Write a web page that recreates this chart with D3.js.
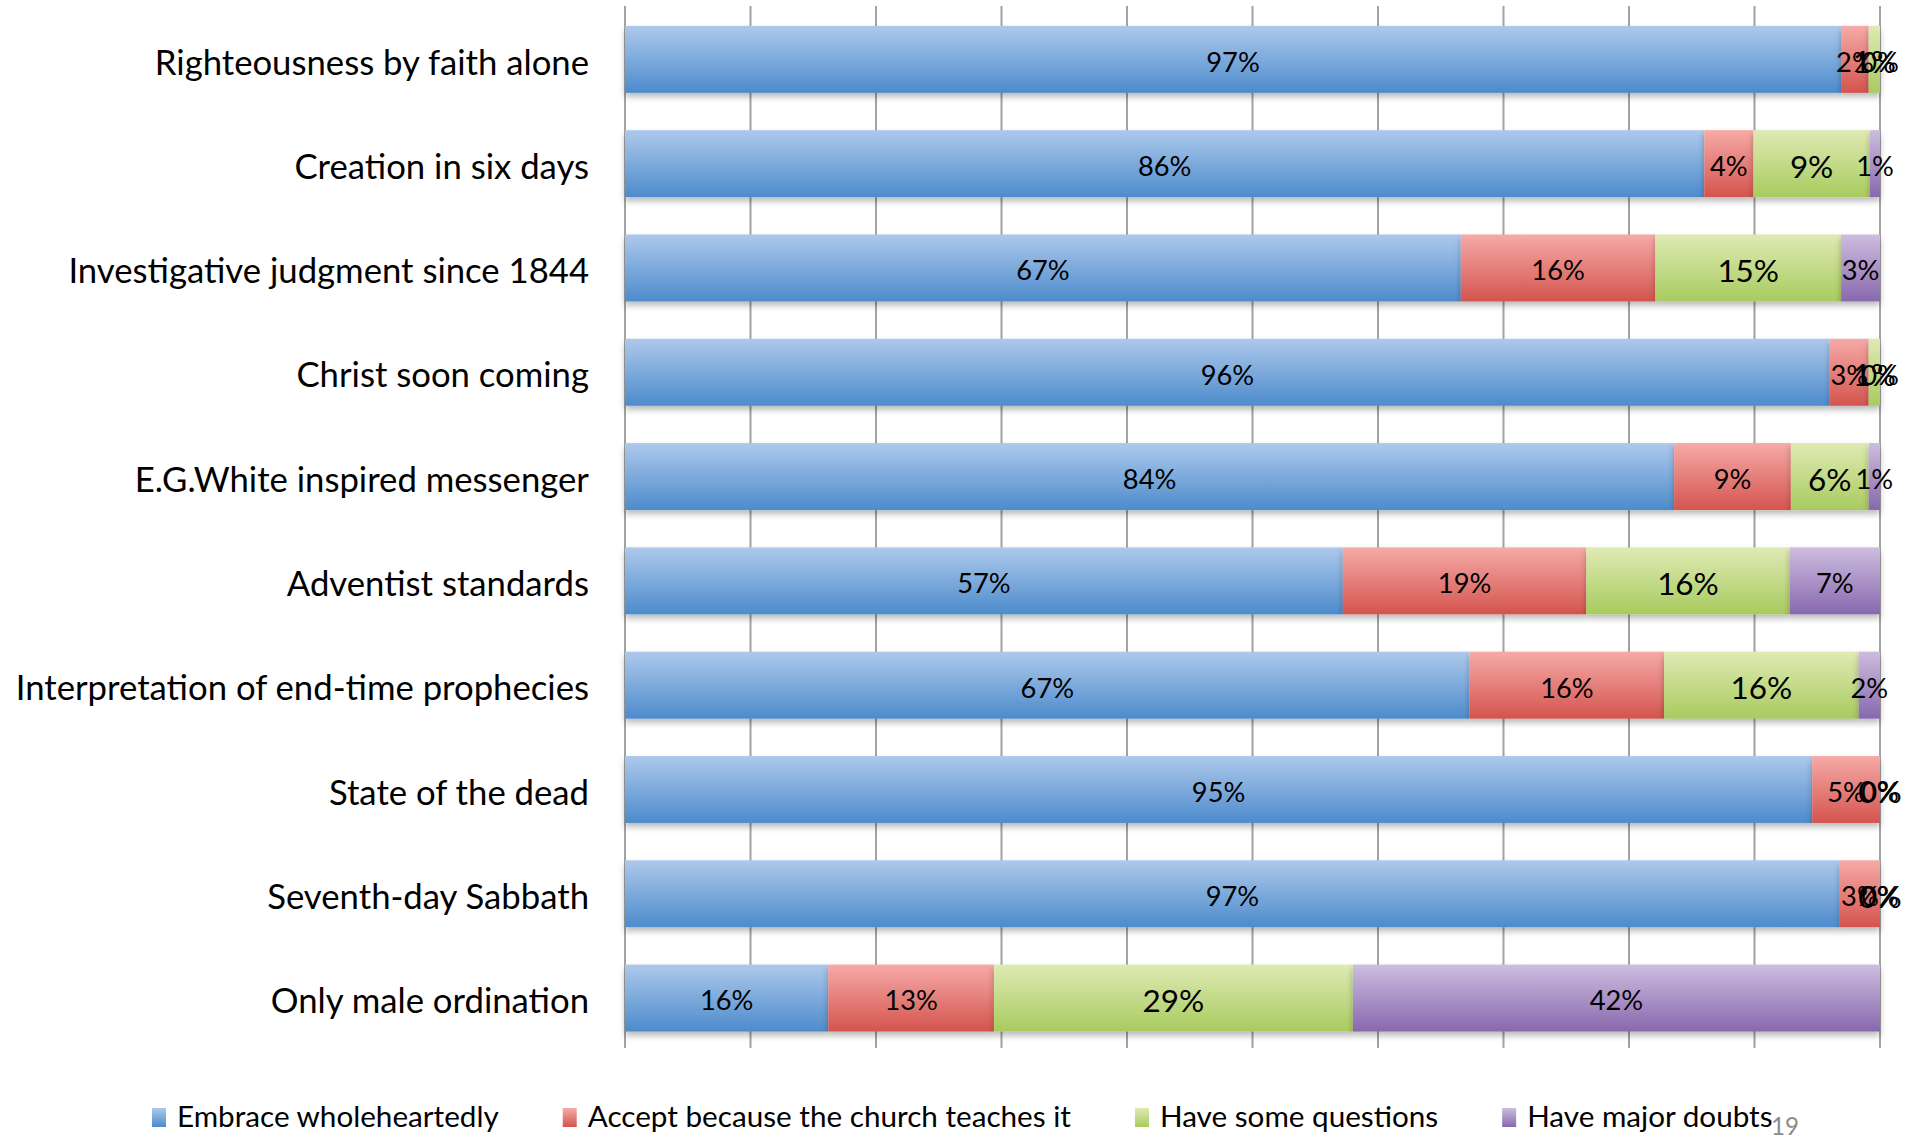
<!DOCTYPE html>
<html>
<head>
<meta charset="utf-8">
<script src="https://cdn.jsdelivr.net/npm/d3@7"></script>
<style>
  html, body { margin: 0; padding: 0; background: #ffffff; }
  svg { display: block; }
  text { font-family: Lato, "Open Sans", sans-serif; fill: #000; }
</style>
</head>
<body>
<script>
const categories = [
  "Righteousness by faith alone",
  "Creation in six days",
  "Investigative judgment since 1844",
  "Christ soon coming",
  "E.G.White inspired messenger",
  "Adventist standards",
  "Interpretation of end-time prophecies",
  "State of the dead",
  "Seventh-day Sabbath",
  "Only male ordination"
];
const seriesNames = [
  "Embrace wholeheartedly",
  "Accept because the church teaches it",
  "Have some questions",
  "Have major doubts"
];
const embrace   = [96.9, 86.0, 66.6, 96.0, 83.6, 57.2, 67.3, 94.6, 96.8, 16.2];
const accept    = [ 2.2,  3.9, 15.5,  3.1,  9.3, 19.4, 15.5,  5.4,  3.2, 13.2];
const questions = [ 0.9,  9.3, 14.8,  0.9,  6.2, 16.2, 15.5,  0.0,  0.0, 28.6];
const doubts    = [ 0.0,  0.8,  3.1,  0.0,  0.9,  7.2,  1.7,  0.0,  0.0, 42.0];
const xTicks = [0, 0.1, 0.2, 0.3, 0.4, 0.5, 0.6, 0.7, 0.8, 0.9, 1.0];
const pageNumber = "19";

const W = 1919, H = 1138;
const gradColors = [
  ["#adc9eb", "#4d8bcc"],
  ["#f6aaa7", "#d4544e"],
  ["#dfeab4", "#a8cb5e"],
  ["#cdbddf", "#8868ae"]
];

const seriesValues = [embrace, accept, questions, doubts];
const keys = seriesNames;
const table = categories.map((c, i) => {
  const row = { category: c };
  keys.forEach((k, j) => row[k] = seriesValues[j][i]);
  return row;
});

const svg = d3.select("body").append("svg").attr("width", W).attr("height", H);
const defs = svg.append("defs");
gradColors.forEach((c, i) => {
  const g = defs.append("linearGradient").attr("id", "g" + i)
    .attr("x1", 0).attr("y1", 0).attr("x2", 0).attr("y2", 1);
  g.append("stop").attr("offset", "0%").attr("stop-color", c[0]);
  g.append("stop").attr("offset", "100%").attr("stop-color", c[1]);
});
const f = defs.append("filter").attr("id", "shadow")
  .attr("x", "-5%").attr("y", "-20%").attr("width", "110%").attr("height", "160%");
f.append("feDropShadow").attr("dx", 0).attr("dy", 4).attr("stdDeviation", 3)
  .attr("flood-color", "#000").attr("flood-opacity", 0.28);

// measurement helper
const meas = svg.append("text").attr("x", -9999).attr("y", -9999).style("font-size", "100px");
function w100(str) { meas.text(str); return meas.node().getComputedTextLength(); }
function fit(str, target) { return 100 * target / w100(str); }
const catSize = (fit("Righteousness by faith alone", 433) + fit("Interpretation of end-time prophecies", 575)) / 2;
const lblSize = fit("16%", 53.5);
const grnSize = fit("16%", 61.7);
const legSize = 100 * 1329 / d3.sum(seriesNames, s => w100(s));
const pgSize = fit("19", 28);
meas.remove();

const x = d3.scaleLinear().domain([0, 1]).range([625, 1880]);
const y = d3.scaleBand().domain(categories).range([7.2, 1050.2])
  .paddingInner(0.358).paddingOuter(0.179);

// gridlines
svg.append("g").selectAll("line").data(xTicks).join("line")
  .attr("x1", d => x(d)).attr("x2", d => x(d))
  .attr("y1", 6).attr("y2", 1048)
  .attr("stroke", "#a2a2a2").attr("stroke-width", 2);

const stack = d3.stack().keys(keys).offset(d3.stackOffsetExpand);
const layers = stack(table);

const barG = svg.append("g");
layers.forEach((layer, li) => {
  barG.append("g").attr("filter", "url(#shadow)")
    .selectAll("rect").data(layer).join("rect")
    .attr("x", d => x(d[0]))
    .attr("width", d => Math.max(0, x(d[1]) - x(d[0])))
    .attr("y", d => y(d.data.category))
    .attr("height", y.bandwidth())
    .attr("fill", "url(#g" + li + ")");
});

// data labels
const lblG = svg.append("g");
layers.forEach((layer, li) => {
  const size = li === 2 ? grnSize : lblSize;
  lblG.append("g").selectAll("text").data(layer).join("text")
    .attr("x", d => (x(d[0]) + x(d[1])) / 2)
    .attr("y", d => y(d.data.category) + y.bandwidth() / 2 + 2)
    .attr("dy", "0.38em")
    .attr("text-anchor", "middle")
    .style("font-size", size + "px")
    .text(d => Math.round(d.data[layer.key]) + "%");
});

// category labels
svg.append("g").selectAll("text").data(categories).join("text")
  .attr("x", 589)
  .attr("y", d => y(d) + y.bandwidth() / 2 + 2)
  .attr("dy", "0.38em")
  .attr("text-anchor", "end")
  .style("font-size", catSize + "px")
  .text(d => d);

// legend
const leg = svg.append("g");
let lx = 152;
seriesNames.forEach((name, i) => {
  leg.append("rect").attr("x", lx).attr("y", 1108).attr("width", 14).attr("height", 19)
    .attr("fill", "url(#g" + i + ")");
  const t = leg.append("text").attr("x", lx + 25).attr("y", 1127)
    .style("font-size", legSize + "px").text(name);
  lx = lx + 25 + t.node().getComputedTextLength() + 64;
});

svg.append("text").attr("x", 1771).attr("y", 1135)
  .style("font-size", pgSize + "px").style("fill", "#8c8c8c").text(pageNumber);
</script>
</body>
</html>
